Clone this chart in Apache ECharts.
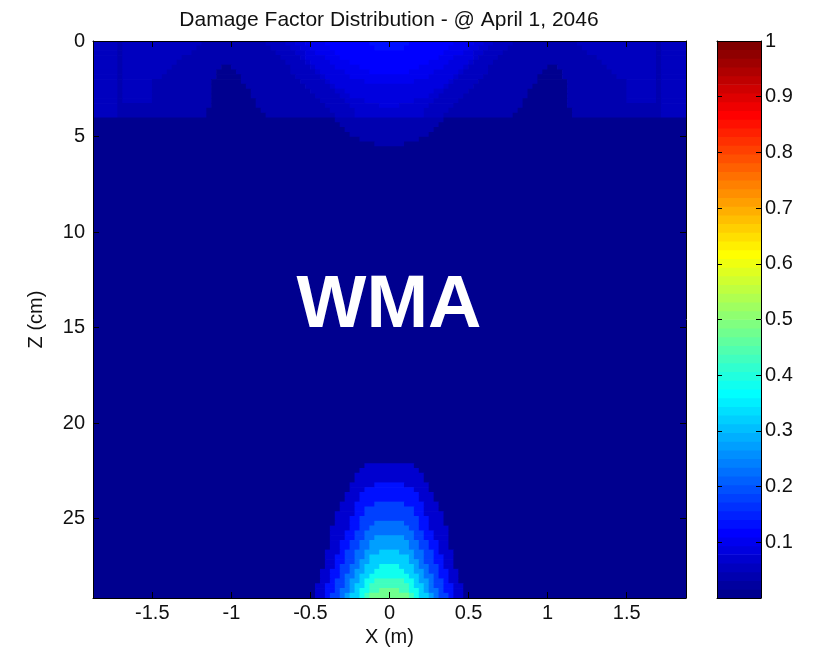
<!DOCTYPE html>
<html>
<head>
<meta charset="utf-8">
<script src="https://cdn.jsdelivr.net/npm/echarts@6/dist/echarts.min.js"></script>
<style>
html,body{margin:0;padding:0;background:#fff;}
#chart{width:818px;height:653px;}
</style>
</head>
<body>
<div id="chart"></div>
<script>
// ---------------- data ----------------
const titleText = 'Damage Factor Distribution - @ April 1, 2046';
const xName = 'X (m)';
const zName = 'Z (cm)';
const overlayText = 'WMA';

const xRange = [-1.875, 1.875];          // m
const zRange = [0, 29.15];               // cm (depth, downward)
const xTicks = [-1.5, -1, -0.5, 0, 0.5, 1, 1.5];
const zTicks = [0, 5, 10, 15, 20, 25];
const colorRange = [0, 1];
const colorbarTicks = [0.1, 0.2, 0.3, 0.4, 0.5, 0.6, 0.7, 0.8, 0.9, 1];

// damage-factor level codes used in the field rows below
const levelCodes  = ['0', '1', '2', '3', '4', '5', '6', '7', '8',
                     'a', 'b', 'c', 'd', 'e', 'f', 'g', 'h', 'i'];
const levelValues = [0.008, 0.023, 0.039, 0.055, 0.070, 0.086, 0.102, 0.117, 0.133,
                     0.075, 0.125, 0.175, 0.225, 0.275, 0.325, 0.375, 0.425, 0.475];

// field: 120 columns (1/32 m each) x 116 rows (~0.25 cm each), run-length coded
// each entry: [number of identical rows, "code:count ..."]
const topLayerRows = [
  [1, '3:5 2:1 3:16 2:13 3:4 4:2 5:2 6:4 7:9 8:8 7:9 6:4 5:2 4:2 3:4 2:13 3:16 2:1 3:5'],
  [1, '3:5 2:1 3:15 2:15 3:4 4:2 5:2 6:4 7:9 8:6 7:9 6:4 5:2 4:2 3:4 2:15 3:15 2:1 3:5'],
  [1, '3:5 2:1 3:14 2:17 3:4 4:2 5:2 6:4 7:22 6:4 5:2 4:2 3:4 2:17 3:14 2:1 3:5'],
  [1, '3:5 2:1 3:12 2:20 3:4 4:1 5:4 6:3 7:20 6:3 5:4 4:1 3:4 2:20 3:12 2:1 3:5'],
  [1, '3:5 2:1 3:11 2:22 3:4 4:1 5:4 6:4 7:16 6:4 5:4 4:1 3:4 2:22 3:11 2:1 3:5'],
  [1, '3:5 2:1 3:10 2:10 0:2 2:12 3:4 4:1 5:4 6:5 7:12 6:5 5:4 4:1 3:4 2:12 0:2 2:10 3:10 2:1 3:5'],
  [1, '3:5 2:1 3:9 2:10 0:4 2:11 3:5 4:1 5:5 6:5 7:8 6:5 5:5 4:1 3:5 2:11 0:4 2:10 3:9 2:1 3:5'],
  [1, '3:5 2:1 3:8 2:11 0:5 2:11 3:5 4:1 5:5 6:16 5:5 4:1 3:5 2:11 0:5 2:11 3:8 2:1 3:5'],
  [1, '3:5 2:1 3:6 2:12 0:6 2:12 3:5 4:1 5:7 6:10 5:7 4:1 3:5 2:12 0:6 2:12 3:6 2:1 3:5'],
  [1, '3:5 2:1 3:6 2:12 0:7 2:12 3:5 4:1 5:22 4:1 3:5 2:12 0:7 2:12 3:6 2:1 3:5'],
  [1, '3:5 2:1 3:6 2:12 0:8 2:12 3:5 4:2 5:18 4:2 3:5 2:12 0:8 2:12 3:6 2:1 3:5'],
  [1, '3:5 2:1 3:6 2:12 0:8 2:13 3:5 4:2 5:16 4:2 3:5 2:13 0:8 2:12 3:6 2:1 3:5'],
  [1, '3:5 2:1 3:6 2:12 0:9 2:13 3:5 4:4 5:10 4:4 3:5 2:13 0:9 2:12 3:6 2:1 3:5'],
  [1, '3:5 2:19 0:9 2:14 3:5 4:6 5:4 4:6 3:5 2:14 0:9 2:19 3:5'],
  [1, '3:5 2:18 0:11 2:14 3:5 4:14 3:5 2:14 0:11 2:18 3:5'],
  [1, '3:5 2:18 0:12 2:14 3:4 4:14 3:4 2:14 0:12 2:18 3:5']
];
const underLayerRows = [
  [1, '0:49 2:22 0:49'],
  [1, '0:50 2:20 0:50'],
  [1, '0:51 2:18 0:51'],
  [1, '0:52 2:16 0:52'],
  [1, '0:54 2:12 0:54'],
  [1, '0:57 2:6 0:57'],
  [66, '0:120']
];
const bottomBumpRows = [
  [1, '0:55 a:10 0:55'],
  [1, '0:54 a:12 0:54'],
  [2, '0:53 a:14 0:53'],
  [1, '0:52 a:5 b:6 a:5 0:52'],
  [1, '0:52 a:3 b:10 a:3 0:52'],
  [1, '0:51 a:3 b:12 a:3 0:51'],
  [1, '0:51 a:3 b:12 a:3 0:51'],
  [1, '0:50 a:3 b:4 c:6 b:4 a:3 0:50'],
  [1, '0:50 a:3 b:2 c:10 b:2 a:3 0:50'],
  [1, '0:49 a:4 b:2 c:10 b:2 a:4 0:49'],
  [1, '0:49 a:3 b:2 c:12 b:2 a:3 0:49'],
  [1, '0:49 a:3 b:2 c:3 d:6 c:3 b:2 a:3 0:49'],
  [1, '0:48 a:4 b:2 c:2 d:8 c:2 b:2 a:4 0:48'],
  [1, '0:48 a:3 b:2 c:2 d:10 c:2 b:2 a:3 0:48'],
  [1, '0:48 a:3 b:2 c:2 d:2 e:6 d:2 c:2 b:2 a:3 0:48'],
  [2, '0:48 a:2 b:2 c:2 d:2 e:8 d:2 c:2 b:2 a:2 0:48'],
  [1, '0:47 a:3 b:1 c:2 d:2 e:3 f:4 e:3 d:2 c:2 b:1 a:3 0:47'],
  [1, '0:47 a:2 b:2 c:2 d:2 e:1 f:8 e:1 d:2 c:2 b:2 a:2 0:47'],
  [1, '0:47 a:2 b:2 c:2 d:1 e:2 f:8 e:2 d:1 c:2 b:2 a:2 0:47'],
  [1, '0:47 a:2 b:1 c:2 d:2 e:1 f:3 g:4 f:3 e:1 d:2 c:2 b:1 a:2 0:47'],
  [1, '0:46 a:2 b:2 c:2 d:1 e:2 f:2 g:6 f:2 e:2 d:1 c:2 b:2 a:2 0:46'],
  [1, '0:46 a:2 b:2 c:1 d:2 e:1 f:2 g:8 f:2 e:1 d:2 c:1 b:2 a:2 0:46'],
  [1, '0:46 a:2 b:1 c:2 d:1 e:2 f:1 g:2 h:6 g:2 f:1 e:2 d:1 c:2 b:1 a:2 0:46'],
  [1, '0:45 a:2 b:2 c:2 d:1 e:1 f:2 g:1 h:8 g:1 f:2 e:1 d:1 c:2 b:2 a:2 0:45'],
  [1, '0:45 a:2 b:2 c:1 d:2 e:1 f:1 g:2 h:2 i:4 h:2 g:2 f:1 e:1 d:2 c:1 b:2 a:2 0:45'],
  [1, '0:45 a:2 b:1 c:2 d:1 e:1 f:2 g:1 h:1 i:8 h:1 g:1 f:2 e:1 d:1 c:2 b:1 a:2 0:45']
];

// ---------------- build rectangles (one per run) ----------------
const allRows = topLayerRows.concat(underLayerRows, bottomBumpRows);
const nCols = 120;
const nRows = allRows.reduce((s, e) => s + e[0], 0);
const dx = (xRange[1] - xRange[0]) / nCols;
const dz = (zRange[1] - zRange[0]) / nRows;
const cells = [];
let rowCursor = 0;
allRows.forEach(function (entry) {
  const z0 = zRange[0] + rowCursor * dz;
  const z1 = z0 + entry[0] * dz;
  let col = 0;
  entry[1].split(' ').forEach(function (tok) {
    const p = tok.split(':');
    const n = +p[1];
    const x0 = xRange[0] + col * dx;
    const x1 = x0 + n * dx;
    cells.push([x0, x1, z0, z1, levelValues[levelCodes.indexOf(p[0])]]);
    col += n;
  });
  rowCursor += entry[0];
});

// MATLAB jet(64) colormap (style)
function jetColor(j) {
  const u = k => (k < 1 || k > 47) ? 0 : (k <= 16 ? k / 16 : (k <= 31 ? 1 : (48 - k) / 16));
  const c = v => Math.round(v * 255);
  return 'rgb(' + c(u(j - 24)) + ',' + c(u(j - 8)) + ',' + c(u(j + 8)) + ')';
}
const nColors = 64;
const pieces = [];
const cbCells = [];
for (let i = 0; i < nColors; i++) {
  const lo = colorRange[0] + (colorRange[1] - colorRange[0]) * i / nColors;
  const hi = colorRange[0] + (colorRange[1] - colorRange[0]) * (i + 1) / nColors;
  const p = {gte: lo, color: jetColor(i + 1)};
  if (i === nColors - 1) p.lte = hi; else p.lt = hi;
  pieces.push(p);
  cbCells.push([0, 1, lo, hi, (lo + hi) / 2]);
}

function renderRect(params, api) {
  const p0 = api.coord([api.value(0), api.value(2)]);
  const p1 = api.coord([api.value(1), api.value(3)]);
  const x = Math.min(p0[0], p1[0]);
  const y = Math.min(p0[1], p1[1]);
  const w = Math.abs(p1[0] - p0[0]);
  const h = Math.abs(p1[1] - p0[1]);
  return {
    type: 'rect',
    shape: {x: x - 0.35, y: y - 0.35, width: w + 0.7, height: h + 0.7},
    style: {fill: api.visual('color'), stroke: null}
  };
}

// ---------------- chart ----------------
const FONT = 'Liberation Sans';
const TXT = '#111';
const G = {left: 93, top: 41, width: 593, height: 557};
const CB = {left: 717, top: 41, width: 44, height: 557};
const frameLine = {show: true, onZero: false, lineStyle: {color: '#000', width: 1}};
const tickStyle = {color: '#000', width: 1};

const chart = echarts.init(document.getElementById('chart'), null, {renderer: 'canvas'});
const option = {
  animation: false,
  backgroundColor: '#fff',
  textStyle: {fontFamily: FONT},
  title: {
    text: titleText, left: 384, top: 5, textAlign: 'center',
    textStyle: {fontFamily: FONT, fontSize: 21, fontWeight: 'normal', color: TXT}
  },
  grid: [
    {left: G.left, top: G.top, width: G.width, height: G.height},
    {left: CB.left, top: CB.top, width: CB.width, height: CB.height}
  ],
  visualMap: {
    type: 'piecewise', show: false, dimension: 4, seriesIndex: [0, 1], pieces: pieces
  },
  xAxis: [
    {type: 'value', gridIndex: 0, position: 'bottom', min: xRange[0], max: xRange[1], z: 10,
     name: xName, nameLocation: 'middle', nameGap: 29,
     nameTextStyle: {fontFamily: FONT, fontSize: 20, color: TXT},
     axisLine: frameLine, splitLine: {show: false},
     axisTick: {show: true, inside: true, length: 6, customValues: xTicks, lineStyle: tickStyle},
     axisLabel: {show: true, customValues: xTicks, margin: 5, fontFamily: FONT, fontSize: 20, color: TXT,
                 formatter: v => String(v)}},
    {type: 'value', gridIndex: 0, position: 'top', min: xRange[0], max: xRange[1], z: 10,
     axisLine: frameLine, splitLine: {show: false},
     axisTick: {show: true, inside: true, length: 6, customValues: xTicks, lineStyle: tickStyle},
     axisLabel: {show: false}},
    {type: 'value', gridIndex: 1, position: 'bottom', min: 0, max: 1, z: 10,
     axisLine: frameLine, splitLine: {show: false}, axisTick: {show: false}, axisLabel: {show: false}},
    {type: 'value', gridIndex: 1, position: 'top', min: 0, max: 1, z: 10,
     axisLine: frameLine, splitLine: {show: false}, axisTick: {show: false}, axisLabel: {show: false}}
  ],
  yAxis: [
    {type: 'value', gridIndex: 0, position: 'left', inverse: true, min: zRange[0], max: zRange[1], z: 10,
     name: zName, nameLocation: 'middle', nameGap: 47, nameRotate: 90,
     nameTextStyle: {fontFamily: FONT, fontSize: 20, color: TXT},
     axisLine: frameLine, splitLine: {show: false},
     axisTick: {show: true, inside: true, length: 6, customValues: zTicks, lineStyle: tickStyle},
     axisLabel: {show: true, customValues: zTicks, margin: 8, fontFamily: FONT, fontSize: 20, color: TXT,
                 formatter: v => String(v)}},
    {type: 'value', gridIndex: 0, position: 'right', inverse: true, min: zRange[0], max: zRange[1], z: 10,
     axisLine: frameLine, splitLine: {show: false},
     axisTick: {show: true, inside: true, length: 6, customValues: zTicks, lineStyle: tickStyle},
     axisLabel: {show: false}},
    {type: 'value', gridIndex: 1, position: 'right', min: colorRange[0], max: colorRange[1], z: 10,
     axisLine: frameLine, splitLine: {show: false},
     axisTick: {show: true, inside: true, length: 5, customValues: colorbarTicks, lineStyle: tickStyle},
     axisLabel: {show: true, customValues: colorbarTicks, margin: 4, fontFamily: FONT, fontSize: 20, color: TXT,
                 formatter: v => String(v)}},
    {type: 'value', gridIndex: 1, position: 'left', min: colorRange[0], max: colorRange[1], z: 10,
     axisLine: frameLine, splitLine: {show: false},
     axisTick: {show: true, inside: true, length: 5, customValues: colorbarTicks, lineStyle: tickStyle},
     axisLabel: {show: false}}
  ],
  series: [
    {type: 'custom', name: 'damage', xAxisIndex: 0, yAxisIndex: 0, data: cells,
     renderItem: renderRect, encode: {x: [0, 1], y: [2, 3]}, clip: true,
     silent: true, progressive: 0, emphasis: {disabled: true}},
    {type: 'custom', name: 'colorbar', xAxisIndex: 2, yAxisIndex: 2, data: cbCells,
     renderItem: renderRect, encode: {x: [0, 1], y: [2, 3]}, clip: true,
     silent: true, progressive: 0, emphasis: {disabled: true}}
  ],
  graphic: [
    {type: 'text', x: 389, y: 307, z: 100, silent: true,
     style: {text: overlayText, fill: '#fff', font: 'bold 74px "Liberation Sans"',
             align: 'center', verticalAlign: 'middle'}}
  ]
};
chart.setOption(option);
</script>
</body>
</html>
